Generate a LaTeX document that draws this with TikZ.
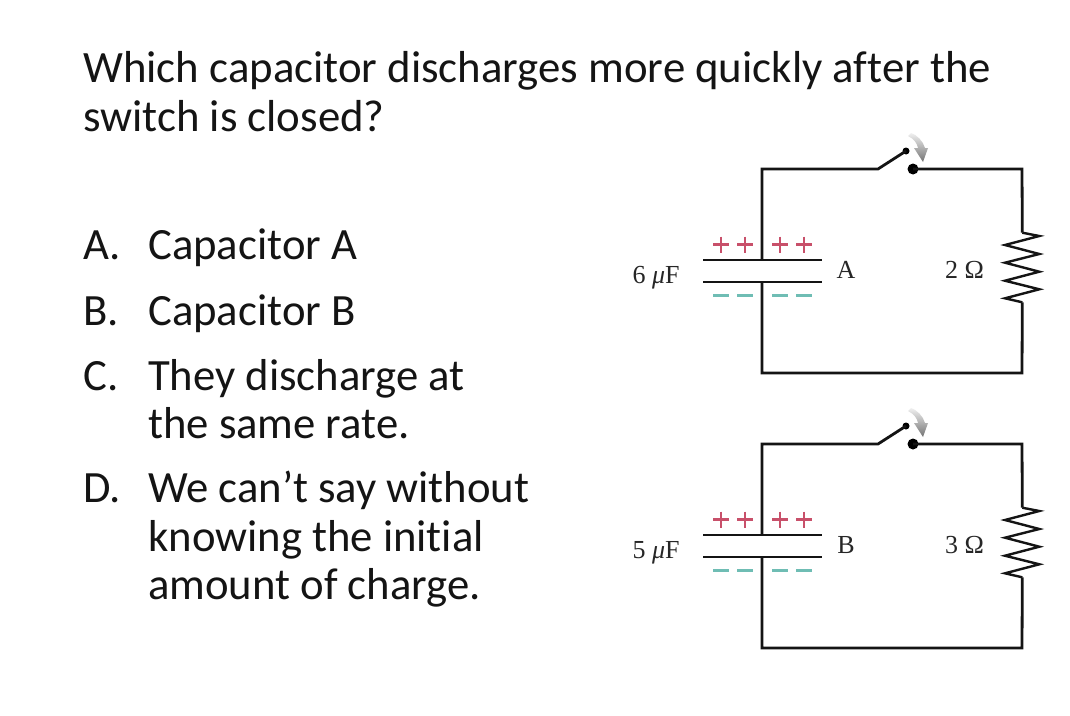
\documentclass[tikz,border=0pt]{standalone}
\usepackage{fontspec}
\setmainfont[Ligatures=NoCommon]{Carlito}
\newfontfamily\serifcirc{Liberation Serif}
\definecolor{plusred}{HTML}{C8506A}
\definecolor{minusteal}{HTML}{6FBDB4}
\definecolor{wirecol}{HTML}{141414}
\tikzset{
  x=1pt,y=-1pt,
  qtext/.style={anchor=base west,inner sep=0pt,font=\fontsize{44.8}{44.8}\selectfont,text=black!92},
  opt/.style={anchor=base west,inner sep=0pt,font=\fontsize{44.7}{44.7}\selectfont,text=black!92},
  clabel/.style={anchor=base,inner sep=0pt,font=\serifcirc\fontsize{26}{26}\selectfont,text=black!85},
  wire/.style={draw=wirecol,line width=2.8pt,line join=miter},
  thinwire/.style={draw=wirecol,line width=2.4pt,line join=miter},
  plate/.style={draw=wirecol,line width=2.6pt},
  plussign/.style={draw=plusred,line width=2.2pt},
  minussign/.style={draw=minusteal,line width=2.2pt},
  bigdot/.style={circle,fill=black,inner sep=0pt,minimum size=11pt},
  smalldot/.style={circle,fill=black,inner sep=0pt,minimum size=7pt},
}
\newcommand{\onecircuit}[5]{%
  % #1 suffix, #2 downward offset, #3 cap label, #4 letter, #5 res label
  \begin{scope}[yshift=-#2pt]
    \coordinate (tl#1) at (762,169);
    \coordinate (bl#1) at (762,373);
    \coordinate (br#1) at (1022,373);
    \coordinate (tr#1) at (1022,169);
    \coordinate (hinge#1) at (878,169);
    \coordinate (ptop#1) at (762,260);
    \coordinate (pbot#1) at (762,282);
    \coordinate (rtop#1) at (1022.3,232.7);
    \coordinate (rbot#1) at (1022.3,302.3);
    \node[bigdot] (contact#1) at (913,169) {};
    \node[smalldot] (arm#1) at (906,151) {};
    \draw[wire] (ptop#1) -- (tl#1) -- (hinge#1) -- (arm#1.center);
    \draw[wire] (contact#1.center) -- (tr#1) -- (rtop#1);
    \draw[thinwire] (rtop#1) -- (1039.3,236) -- (1005,245) -- (1039.3,254) -- (1005,262.7) -- (1039.3,271.7) -- (1005,280.7) -- (1039.3,289.3) -- (1005,298.3) -- (rbot#1);
    \draw[wire] (rbot#1) -- (br#1) -- (bl#1) -- (pbot#1);
    \coordinate (pl1#1) at (703,260); \coordinate (pr1#1) at (822,260);
    \coordinate (pl2#1) at (703,282); \coordinate (pr2#1) at (822,282);
    \draw[plate] (pl1#1) -- (pr1#1);
    \draw[plate] (pl2#1) -- (pr2#1);
    \foreach \px in {721,745,780,804}{
      \draw[plussign] (\px-8,244.5) -- (\px+8,244.5) (\px,236.5) -- (\px,252.5);
      \draw[minussign] (\px-8,295.5) -- (\px+8,295.5);
    }
    \node[clabel] (caplabel#1) at (656,283.5) {#3 \textit{μ}F};
    \node[clabel] (letter#1) at (846,278.5) {#4};
    \node[clabel] (reslabel#1) at (964.5,278.5) {#5 Ω};
    \shade[top color=black!6,bottom color=black!55]
      (908,136) .. controls (914,139) and (917,143) .. (918,148)
      -- (914,148) -- (923,162) -- (928,148) -- (925,148)
      .. controls (923,141) and (917,135) .. (911,133) -- cycle;
  \end{scope}
}
\begin{document}
\begin{tikzpicture}
\useasboundingbox (0,0) rectangle (1070,715);
\fill[white] (0,0) rectangle (1070,715);
\node[qtext] (q1) at (83,82) {Which capacitor discharges more quickly after the};
\node[qtext] (q2) at (83,131) {switch is closed?};
\node[opt] (a) at (83,259) {A.};
\node[opt] (at) at (148,259) {Capacitor A};
\node[opt] (b) at (83,325) {B.};
\node[opt] (bt) at (148,325) {Capacitor B};
\node[opt] (c) at (83,390) {C.};
\node[opt] (ct1) at (148,390) {They discharge at};
\node[opt] (ct2) at (148,438) {the same rate.};
\node[opt] (d) at (83,502) {D.};
\node[opt] (dt1) at (148,502) {We can’t say without};
\node[opt] (dt2) at (148,551) {knowing the initial};
\node[opt] (dt3) at (148,599) {amount of charge.};
\onecircuit{A}{0}{6}{A}{2}
\onecircuit{B}{275}{5}{B}{3}
\end{tikzpicture}
\end{document}
